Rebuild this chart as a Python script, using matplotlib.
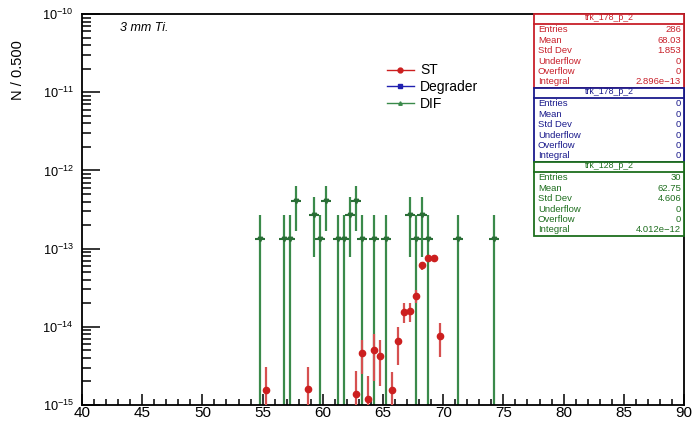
import numpy as np
import matplotlib
matplotlib.use('Agg')
import matplotlib.pyplot as plt
from matplotlib.patches import Rectangle
from matplotlib.lines import Line2D

plt.rcParams['font.family'] = ['Liberation Sans', 'DejaVu Sans']
plt.rcParams['mathtext.default'] = 'regular'

# ST (red) bin centres, contents and errors
st_x = [55.25, 58.75, 62.75, 63.25, 63.75, 64.25, 64.75, 65.75, 66.25,
        66.75, 67.25, 67.75, 68.25, 68.75, 69.25, 69.75]
st_y = [1.56e-15, 1.6e-15, 1.38e-15, 4.6e-15, 1.19e-15, 5.05e-15, 4.27e-15, 1.56e-15,
        6.6e-15, 1.55e-14, 1.59e-14, 2.48e-14, 6.1e-14, 7.65e-14, 7.65e-14, 7.6e-15]
st_err = [1.47e-15, 1.5e-15, 1.34e-15, 2.1e-15, 1.18e-15, 3.0e-15, 2.5e-15, 1.1e-15,
          3.4e-15, 4.4e-15, 4.4e-15, 4.8e-15, 7e-15, 7e-15, 7e-15, 3.5e-15]

# DIF (green) bin centres and entry counts, each entry has the same weight
dif_x = [54.75, 56.75, 57.25, 57.75, 59.25, 59.75, 60.25, 61.25, 61.75, 62.25,
         62.75, 63.25, 64.25, 65.25, 67.25, 67.75, 68.25, 68.75, 71.25, 74.25]
dif_n = [1, 1, 1, 3, 2, 1, 3, 1, 1, 2, 3, 1, 1, 1, 2, 1, 2, 1, 1, 1]
dif_w = 4.012e-12 / 30

xticks = [40, 45, 50, 55, 60, 65, 70, 75, 80, 85, 90]

stats = [
    ('trk_178_p_2', '#c8202a',
     [('Entries', '286'), ('Mean', '68.03'), ('Std Dev', '1.853'),
      ('Underflow', '0'), ('Overflow', '0'), ('Integral', '2.896e\u221213')]),
    ('trk_178_p_2', '#1a1a8c',
     [('Entries', '0'), ('Mean', '0'), ('Std Dev', '0'),
      ('Underflow', '0'), ('Overflow', '0'), ('Integral', '0')]),
    ('trk_128_p_2', '#1e6e1e',
     [('Entries', '30'), ('Mean', '62.75'), ('Std Dev', '4.606'),
      ('Underflow', '0'), ('Overflow', '0'), ('Integral', '4.012e\u221212')]),
]

red = '#cc1f1f'
green = '#3a8a4a'
blue = '#2020b0'

W, H = 695, 422
fig = plt.figure(figsize=(W / 100, H / 100), dpi=100)
ax = fig.add_axes([82 / W, 1 - 405 / H, (684 - 82) / W, (405 - 14) / H])

dif_n = np.array(dif_n)
dif_y = dif_n * dif_w
dif_e = np.sqrt(dif_n) * dif_w
dif_lo = dif_y - np.maximum(dif_y - dif_e, 1e-17)
ax.errorbar(dif_x, dif_y, yerr=[dif_lo, dif_e], fmt='none', ecolor=green,
            elinewidth=1.6, zorder=2)
ax.plot(dif_x, dif_y, ls='none', marker='_', ms=6.5, mew=1.5, color='#2a6e36', zorder=3)
ax.plot(dif_x, dif_y, ls='none', marker='v', ms=3.2, color='#2a6e36', zorder=3)

st_y = np.array(st_y)
st_err = np.array(st_err)
st_lo = st_y - np.maximum(st_y - st_err, 1e-17)
ax.errorbar(st_x, st_y, yerr=[st_lo, st_err], fmt='none', ecolor='#d65050',
            elinewidth=1.6, zorder=4)
ax.plot(st_x, st_y, ls='none', marker='o', ms=4.5, color=red, zorder=5)

ax.set_yscale('log')
ax.set_xlim(40, 90)
ax.set_ylim(1e-15, 1e-10)
ax.set_xticks(xticks)
ax.set_xticks(np.arange(40, 91, 1), minor=True)
ax.tick_params(axis='x', which='major', direction='in', length=8, width=1.1,
               labelsize=11, pad=1)
ax.tick_params(axis='x', which='minor', direction='in', length=4, width=1.1)
ax.tick_params(axis='y', which='major', direction='in', length=13, width=1.1,
               labelsize=9.2, pad=6)
ax.tick_params(axis='y', which='minor', direction='in', length=6.5, width=1.1)
ax.yaxis.set_minor_locator(matplotlib.ticker.LogLocator(base=10, subs=np.arange(2, 10)))
ax.yaxis.set_minor_formatter(matplotlib.ticker.NullFormatter())
for s in ax.spines.values():
    s.set_linewidth(1.3)

fig.text(18 / W, 1 - 70 / H, 'N / 0.500', rotation=90, ha='center', va='center',
         fontsize=10.5)
ax.text(120 / W, 1 - 28 / H, '3 mm Ti.', transform=fig.transFigure, fontsize=9,
        style='italic', va='center', ha='left')

handles = [
    Line2D([], [], color=red, marker='o', ms=3.5, lw=1),
    Line2D([], [], color=blue, marker='s', ms=2.5, lw=1),
    Line2D([], [], color=green, marker='^', ms=2.5, lw=1),
]
fig.legend(handles, ['ST', 'Degrader', 'DIF'], loc='upper left',
           bbox_to_anchor=(374 / W, 1 - 51 / H), frameon=False, fontsize=10,
           handlelength=2.0, handletextpad=0.4, labelspacing=0.2)

# stats boxes
x0, x1 = 534, 684
top = 14
for title, col, rows in stats:
    head = 10
    body = 64
    fig.add_artist(Rectangle((x0 / W, 1 - (top + head + body) / H), (x1 - x0) / W,
                             (head + body) / H, transform=fig.transFigure,
                             facecolor='white', edgecolor=col, lw=1.3, zorder=5))
    fig.add_artist(Line2D([x0 / W, x1 / W], [1 - (top + head) / H] * 2,
                          transform=fig.transFigure, color=col, lw=1.3, zorder=6))
    fig.text((x0 + x1) / 2 / W, 1 - (top + head / 2 - 1) / H, title, ha='center',
             va='center', fontsize=6.3, color=col, zorder=7)
    for i, (lab, val) in enumerate(rows):
        yy = 1 - (top + head + 6 + i * 10.4) / H
        fig.text((x0 + 4) / W, yy, lab, ha='left', va='center', fontsize=6.8,
                 color=col, zorder=7)
        fig.text((x1 - 3) / W, yy, val, ha='right', va='center', fontsize=6.8,
                 color=col, zorder=7)
    top += head + body

fig.savefig('out.png', dpi=100)
